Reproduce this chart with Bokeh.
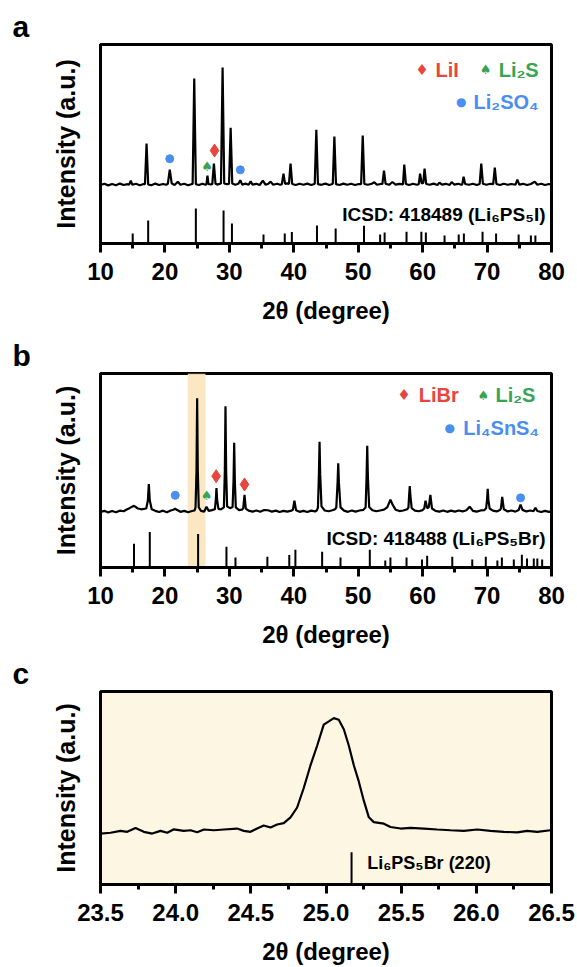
from bokeh.plotting import figure
from bokeh.layouts import column
from bokeh.models import (Range1d, SingleIntervalTicker, FixedTicker,
                          PrintfTickFormatter, Label, BoxAnnotation)
from bokeh.embed import file_html
from bokeh.resources import INLINE
from bokeh.core.properties import value

FONT = "Liberation Sans"
SYM_FONT = "DejaVu Sans"
RED, GREEN, BLUE = "#e8463c", "#37a454", "#4a8ef0"
BAND = "#fbe6bd"
PANEL_C_BG = "#fdf6e3"

# ---------------- (a) Li6PS5I ----------------
a_theta = [10.0, 10.6, 11.2, 11.8, 12.4, 13.0, 13.6, 14.2,
           14.45, 14.7, 14.95, 15.5, 16.1, 16.7,
           16.9, 17.15, 17.4, 17.9, 18.5, 19.1, 19.7, 20.2,
           20.45, 20.75, 21.05, 21.5, 22.0, 22.4, 23.0, 23.6, 24.1,
           24.3, 24.55, 24.8, 25.3, 25.8, 26.3,
           26.45, 26.6, 26.75, 27.1, 27.35, 27.6, 27.85, 28.2, 28.6,
           28.7, 28.95, 29.2, 29.6, 29.95, 30.2, 30.45,
           30.9, 31.4, 31.7, 32.0, 32.5, 33.0, 33.3, 33.6, 34.2, 34.7, 35.2,
           35.6, 36.0, 36.4, 36.8, 37.4, 37.9,
           38.15, 38.4, 38.65, 38.95, 39.25, 39.5, 39.75,
           40.3, 40.9, 41.5, 42.1, 42.7, 43.2, 43.25, 43.5, 43.75,
           44.3, 44.9, 45.5, 46.0, 46.05, 46.3, 46.55,
           47.1, 47.7, 48.3, 48.9, 49.5, 50.1, 50.45, 50.7, 50.95,
           51.5, 52.1, 52.5, 52.9, 53.5, 53.75, 54.0, 54.25,
           54.8, 55.3, 55.8, 56.4, 56.95, 57.15, 57.4,
           57.9, 58.5, 59.1, 59.4, 59.6, 59.85, 60.1, 60.3, 60.55,
           61.1, 61.7, 62.3, 62.6, 63.0, 63.6, 64.2, 64.5, 64.9, 65.5, 66.0,
           66.15, 66.35, 66.6, 67.2, 67.8, 68.4, 68.85, 69.1, 69.35,
           69.9, 70.5, 70.95, 71.2, 71.45, 72.0, 72.6, 73.2, 73.8, 74.4,
           74.7, 75.0, 75.6, 76.2, 76.8, 77.4, 77.8, 78.4, 79.0, 79.6, 80.0]
a_counts = [29.4, 30.0, 29.2, 29.9, 29.3, 30.1, 29.4, 29.8,
            29.6, 31.6, 29.5, 30.0, 29.3, 29.9,
            29.8, 50.2, 29.7, 29.3, 30.1, 29.4, 29.9, 29.5,
            30.0, 37.1, 30.2, 29.4, 31.0, 29.5, 30.0, 29.3, 29.8,
            29.9, 82.9, 29.8, 29.4, 30.0, 29.5,
            29.8, 34.1, 29.9, 29.7, 29.8, 40.2, 30.0, 29.6, 30.1,
            30.0, 88.4, 30.2, 29.8, 30.0, 58.2, 30.1,
            29.5, 30.0, 31.8, 29.6, 30.1, 29.5, 31.2, 29.6, 30.0, 29.4, 31.6,
            29.6, 29.9, 31.1, 29.5, 30.0, 29.5,
            29.8, 35.1, 30.0, 30.2, 30.0, 40.2, 29.9,
            29.4, 30.0, 29.5, 30.1, 29.4, 29.9, 29.9, 57.2, 29.8,
            29.5, 30.1, 29.4, 29.9, 29.9, 53.7, 29.8,
            29.4, 30.1, 29.5, 30.0, 29.4, 29.9, 29.8, 54.2, 29.9,
            29.5, 30.0, 30.8, 29.5, 29.9, 29.9, 36.6, 30.0,
            29.5, 30.9, 29.6, 30.0, 29.7, 39.6, 29.9,
            29.4, 30.0, 29.5, 29.8, 35.1, 30.2, 30.4, 37.6, 29.9,
            29.5, 30.1, 29.4, 30.6, 29.6, 30.0, 29.4, 30.9, 29.6, 30.0, 29.5,
            29.7, 33.6, 29.9, 29.5, 30.0, 29.4, 29.9, 40.2, 30.0,
            29.5, 30.0, 29.8, 38.1, 29.9, 29.4, 30.0, 29.5, 29.9, 29.5,
            32.1, 29.6, 30.0, 29.4, 29.9, 31.1, 29.5, 30.0, 29.4, 29.9, 29.5]

# ICSD 418489 reference reflections
a_ref_theta = [15.0, 17.4, 24.8, 29.1, 30.4, 35.3, 38.6, 39.7, 43.6, 46.5,
               50.9, 53.4, 54.1, 57.5, 59.8, 60.5, 63.4, 65.6, 66.4, 69.3,
               71.4, 74.9, 76.8, 77.5]
a_ref_int = [5.0, 11.6, 17.6, 16.6, 10.1, 4.5, 5.0, 5.8, 9.0, 7.5,
             8.9, 4.5, 5.5, 5.9, 5.9, 5.5, 4.0, 4.5, 5.0, 5.9,
             5.0, 4.5, 4.0, 4.0]

# impurity markers
a_lii_theta, a_lii_y = [27.7], [46.7]
a_li2s_theta, a_li2s_y = [26.55], [38.6]
a_li2so4_theta, a_li2so4_y = [20.75, 31.7], [42.6, 37.0]

# ---------------- (b) Li6PS5Br ----------------
b_theta = [10.0, 10.6, 11.2, 11.8, 12.4, 13.0, 13.6, 14.0, 14.5, 15.2, 15.8, 16.3, 16.9,
           17.1, 17.35, 17.5, 17.65, 17.95,
           18.5, 19.1, 19.7, 20.3, 20.9, 21.3, 21.6, 21.9, 22.4, 23.0, 23.6, 24.2, 24.6,
           24.75, 24.9, 25.0, 25.1, 25.25,
           25.6, 26.1, 26.45, 26.8, 27.3,
           27.75, 27.9, 28.0, 28.1, 28.3, 28.7,
           29.15, 29.3, 29.4, 29.5, 29.65, 30.1,
           30.5, 30.65, 30.75, 30.85, 31.0, 31.5, 31.95,
           32.15, 32.35, 32.55,
           33.0, 33.6, 34.2, 34.8, 35.4, 36.0, 36.6, 37.2, 37.8, 38.4, 39.0, 39.6,
           39.85, 40.1, 40.35,
           40.9, 41.5, 42.1, 42.7, 43.3, 43.6,
           43.75, 43.9, 44.0, 44.1, 44.3,
           44.8, 45.4, 46.0, 46.4,
           46.6, 46.8, 46.9, 47.0, 47.25,
           47.8, 48.4, 49.0, 49.6, 50.2, 50.8,
           51.15, 51.3, 51.4, 51.5, 51.7,
           52.2, 52.8, 53.4, 54.0, 54.5, 55.0, 55.4, 55.8, 56.4, 57.0, 57.6,
           57.8, 57.9, 58.0, 58.1, 58.3,
           58.8, 59.4, 60.0, 60.25, 60.45, 60.7, 60.95, 61.2, 61.45,
           62.0, 62.6, 63.2, 63.8, 64.4, 65.0, 65.6, 66.2, 66.8, 67.3, 67.8, 68.4, 69.0, 69.6,
           69.85, 70.0, 70.1, 70.2, 70.4,
           70.9, 71.5, 72.0, 72.15, 72.35, 72.6,
           73.2, 73.8, 74.4, 74.9, 75.2, 75.5, 76.1, 76.7, 77.2, 77.5, 77.8, 78.4, 79.0, 79.6, 80.0]
b_counts = [28.6, 29.2, 28.4, 29.1, 28.5, 29.3, 29.0, 29.8, 30.6, 31.8, 30.4, 30.0, 30.3,
            30.4, 34.5, 43.0, 34.5, 30.0,
            29.2, 28.6, 29.3, 28.5, 29.4, 29.8, 30.3, 29.6, 28.7, 29.2, 28.5, 29.1, 29.4,
            31.0, 50.0, 87.2, 50.0, 31.0,
            29.2, 28.8, 31.3, 29.2, 29.6,
            30.0, 35.0, 41.0, 35.0, 30.2, 30.0,
            31.0, 50.0, 83.1, 50.0, 31.5, 30.6,
            31.2, 45.0, 64.3, 45.0, 31.0, 29.6, 29.8,
            30.5, 37.4, 30.4,
            29.3, 28.8, 29.4, 28.7, 29.6, 29.5, 28.8, 29.3, 28.6, 29.2, 28.8, 29.3,
            29.6, 34.4, 29.5,
            28.7, 29.2, 28.6, 29.3, 28.9, 29.5,
            31.0, 48.0, 64.8, 48.0, 31.5,
            29.4, 29.0, 29.5, 30.0,
            31.0, 44.0, 53.7, 44.0, 31.0,
            29.3, 28.7, 29.4, 28.8, 29.4, 29.7,
            31.0, 47.0, 62.8, 47.0, 31.2,
            29.5, 29.0, 29.4, 29.8, 31.0, 34.9, 32.0, 29.8, 29.1, 29.4, 30.0,
            31.0, 37.0, 42.0, 37.0, 30.6,
            29.3, 29.0, 29.6, 30.4, 34.4, 30.6, 31.0, 37.4, 30.4,
            29.2, 28.8, 29.4, 28.7, 29.3, 28.8, 29.4, 28.9, 29.5, 31.3, 29.2, 28.8, 29.4, 29.6,
            30.5, 35.0, 40.5, 35.0, 30.4,
            29.3, 28.9, 29.6, 30.4, 36.4, 30.0,
            28.9, 29.4, 28.8, 29.6, 32.4, 29.7, 28.9, 29.4, 29.0, 30.8, 29.1, 28.6, 29.2, 28.7, 29.0]

# ICSD 418488 reference reflections
b_ref_theta = [15.2, 17.65, 25.15, 29.55, 30.95, 35.9, 39.3, 40.25, 44.4, 47.25,
               51.8, 54.2, 55.0, 57.5, 59.9, 60.7, 64.6, 67.7, 69.8, 71.6,
               72.3, 74.15, 75.4, 76.2, 77.25, 77.8, 78.55]
b_ref_int = [12.2, 18.3, 17.3, 10.7, 5.1, 5.6, 6.4, 9.1, 8.1, 5.1,
             9.1, 3.6, 5.1, 5.1, 4.1, 6.1, 5.6, 4.1, 5.6, 3.6,
             5.1, 4.1, 6.6, 4.6, 4.6, 4.6, 4.1]

b_libr_theta, b_libr_y = [27.95, 32.35], [47.1, 42.8]
b_li2s_theta, b_li2s_y = [26.45], [37.2]
b_li4sns4_theta, b_li4sns4_y = [21.6, 75.2], [37.2, 35.9]

# highlighted (220) region
band_lo, band_hi = 23.55, 26.3

# ---------------- (c) (220) close-up ----------------
c_theta = [23.50, 23.567, 23.633, 23.678, 23.733, 23.788, 23.844, 23.899, 23.944, 23.988,
           24.054, 24.099, 24.143, 24.188, 24.254, 24.320, 24.409, 24.453, 24.498, 24.542,
           24.586, 24.631, 24.675, 24.719, 24.764, 24.808, 24.852, 24.897, 24.941, 24.985,
           25.019, 25.052, 25.085, 25.119, 25.152, 25.185, 25.218, 25.252, 25.285, 25.318,
           25.385, 25.429, 25.496, 25.562, 25.651, 25.740, 25.828, 25.917, 26.006, 26.094,
           26.183, 26.272, 26.338, 26.405, 26.493]
c_counts = [26.4, 26.8, 27.8, 27.3, 29.3, 27.3, 26.4, 27.8, 26.8, 28.6,
            27.8, 28.1, 27.1, 28.5, 28.1, 28.5, 29.0, 27.8, 27.3, 29.0,
            30.6, 29.5, 31.1, 31.8, 34.8, 39.9, 50.0, 61.8, 71.9, 82.8,
            84.5, 86.2, 85.4, 80.3, 71.9, 61.8, 53.4, 43.3, 34.8, 32.3,
            31.5, 29.8, 29.0, 29.3, 29.0, 28.5, 28.1, 27.8, 28.5, 27.8,
            27.3, 27.0, 27.8, 27.3, 28.1]
c_ref_theta, c_ref_int = [25.17], [16.7]


def make_panel(letter, height, top, frame_h, x0, x1, interval, fmt, bg="white"):
    p = figure(width=577, height=height, output_backend="svg", toolbar_location=None,
               x_range=Range1d(x0, x1), y_range=Range1d(0, 100),
               min_border_left=100, min_border_right=26, min_border_top=top,
               min_border_bottom=height - top - frame_h,
               background_fill_color=bg, border_fill_color="white")
    p.grid.visible = False
    p.outline_line_color = "black"
    p.outline_line_width = 3
    p.outline_line_alpha = 1.0

    # panel letter as a left-shifted title
    p.title.text = letter
    p.title.align = "left"
    p.title.offset = -88
    p.title.standoff = 4
    p.title.text_font = FONT
    p.title.text_font_style = "bold"
    p.title.text_font_size = "30px"
    p.title.text_color = "black"

    xa = p.xaxis[0]
    xa.ticker = SingleIntervalTicker(interval=interval, num_minor_ticks=2)
    xa.formatter = PrintfTickFormatter(format=fmt)
    xa.axis_line_width = 3
    xa.major_tick_line_width = 3
    xa.minor_tick_line_width = 3
    xa.major_tick_in = 0
    xa.major_tick_out = 9
    xa.minor_tick_in = 0
    xa.minor_tick_out = 5
    xa.major_label_text_font = FONT
    xa.major_label_text_font_style = "bold"
    xa.major_label_text_font_size = "24px"
    xa.major_label_text_color = "black"
    xa.major_label_standoff = 10
    xa.axis_label = "2θ (degree)"
    xa.axis_label_text_font = FONT
    xa.axis_label_text_font_style = "bold"
    xa.axis_label_text_font_size = "24px"
    xa.axis_label_text_color = "black"
    xa.axis_label_standoff = 14

    ya = p.yaxis[0]
    ya.ticker = FixedTicker(ticks=[])
    ya.axis_line_width = 3
    ya.major_tick_out = 0
    ya.major_tick_in = 0
    ya.minor_tick_out = 0
    ya.minor_tick_in = 0
    ya.major_label_standoff = 0
    ya.axis_label = "Intensity (a.u.)"
    ya.axis_label_text_font = FONT
    ya.axis_label_text_font_style = "bold"
    ya.axis_label_text_font_size = "25px"
    ya.axis_label_text_color = "black"
    ya.axis_label_standoff = 21
    return p


def text(p, x, y, s, color="black", size="19px", align="left", font=FONT, style="bold"):
    p.add_layout(Label(x=x, y=y, text=s, text_color=color, text_font=font,
                       text_font_style=style, text_font_size=size,
                       text_align=align, text_baseline="middle"))


def markers(p, dx, dy, sx, sy, cx, cy):
    p.scatter(dx, dy, marker="diamond", size=13, color=RED)
    p.text(sx, sy, text=["♠"] * len(sx), text_color=GREEN, text_font=value(SYM_FONT),
           text_font_size="13px", text_align="center", text_baseline="middle")
    p.scatter(cx, cy, marker="circle", size=8, color=BLUE)


# ---- panel a ----
pa = make_panel("a", 330, 44, 199, 10, 80, 10, "%d")
pa.line(a_theta, a_counts, line_color="black", line_width=2.2)
pa.segment(x0=a_ref_theta, y0=[0] * len(a_ref_theta), x1=a_ref_theta, y1=a_ref_int,
           line_color="black", line_width=2)
markers(pa, a_lii_theta, a_lii_y, a_li2s_theta, a_li2s_y, a_li2so4_theta, a_li2so4_y)
text(pa, 59.9, 87.3, "♦", RED, "15px", font=SYM_FONT, style="normal", align="center")
text(pa, 62.0, 87.3, "LiI", RED, "20px")
text(pa, 69.75, 87.3, "♠", GREEN, "13px", font=SYM_FONT, style="normal", align="center")
text(pa, 71.8, 87.3, "Li₂S", GREEN, "20px")
text(pa, 66.0, 71.0, "●", BLUE, "12px", font=SYM_FONT, style="normal", align="center")
text(pa, 67.9, 71.0, "Li₂SO₄", BLUE, "20px")
text(pa, 79.07, 14.6, "ICSD: 418489 (Li₆PS₅I)", "black", "19px", align="right")

# ---- panel b ----
pb = make_panel("b", 320, 43, 197, 10, 80, 10, "%d")
pb.add_layout(BoxAnnotation(left=band_lo, right=band_hi, fill_color=BAND, fill_alpha=0.9,
                            line_color=None, level="underlay"))
pb.line(b_theta, b_counts, line_color="black", line_width=2.2)
pb.segment(x0=b_ref_theta, y0=[0] * len(b_ref_theta), x1=b_ref_theta, y1=b_ref_int,
           line_color="black", line_width=2)
markers(pb, b_libr_theta, b_libr_y, b_li2s_theta, b_li2s_y, b_li4sns4_theta, b_li4sns4_y)
text(pb, 57.1, 88.8, "♦", RED, "15px", font=SYM_FONT, style="normal", align="center")
text(pb, 59.4, 88.8, "LiBr", RED, "20px")
text(pb, 69.4, 88.8, "♠", GREEN, "13px", font=SYM_FONT, style="normal", align="center")
text(pb, 71.3, 88.8, "Li₂S", GREEN, "20px")
text(pb, 64.2, 71.9, "●", BLUE, "12px", font=SYM_FONT, style="normal", align="center")
text(pb, 66.3, 71.9, "Li₄SnS₄", BLUE, "20px")
text(pb, 79.07, 15.2, "ICSD: 418488 (Li₆PS₅Br)", "black", "19px", align="right")

# ---- panel c ----
pc = make_panel("c", 317, 41, 198, 23.5, 26.5, 0.5, "%.1f", bg=PANEL_C_BG)
pc.line(c_theta, c_counts, line_color="black", line_width=2.2)
pc.segment(x0=c_ref_theta, y0=[0], x1=c_ref_theta, y1=c_ref_int, line_color="black",
           line_width=2)
text(pc, 25.274, 11.3, "Li₆PS₅Br (220)", "black", "18px")

layout = column(pa, pb, pc)
open("out.html", "w").write(file_html(layout, INLINE))
